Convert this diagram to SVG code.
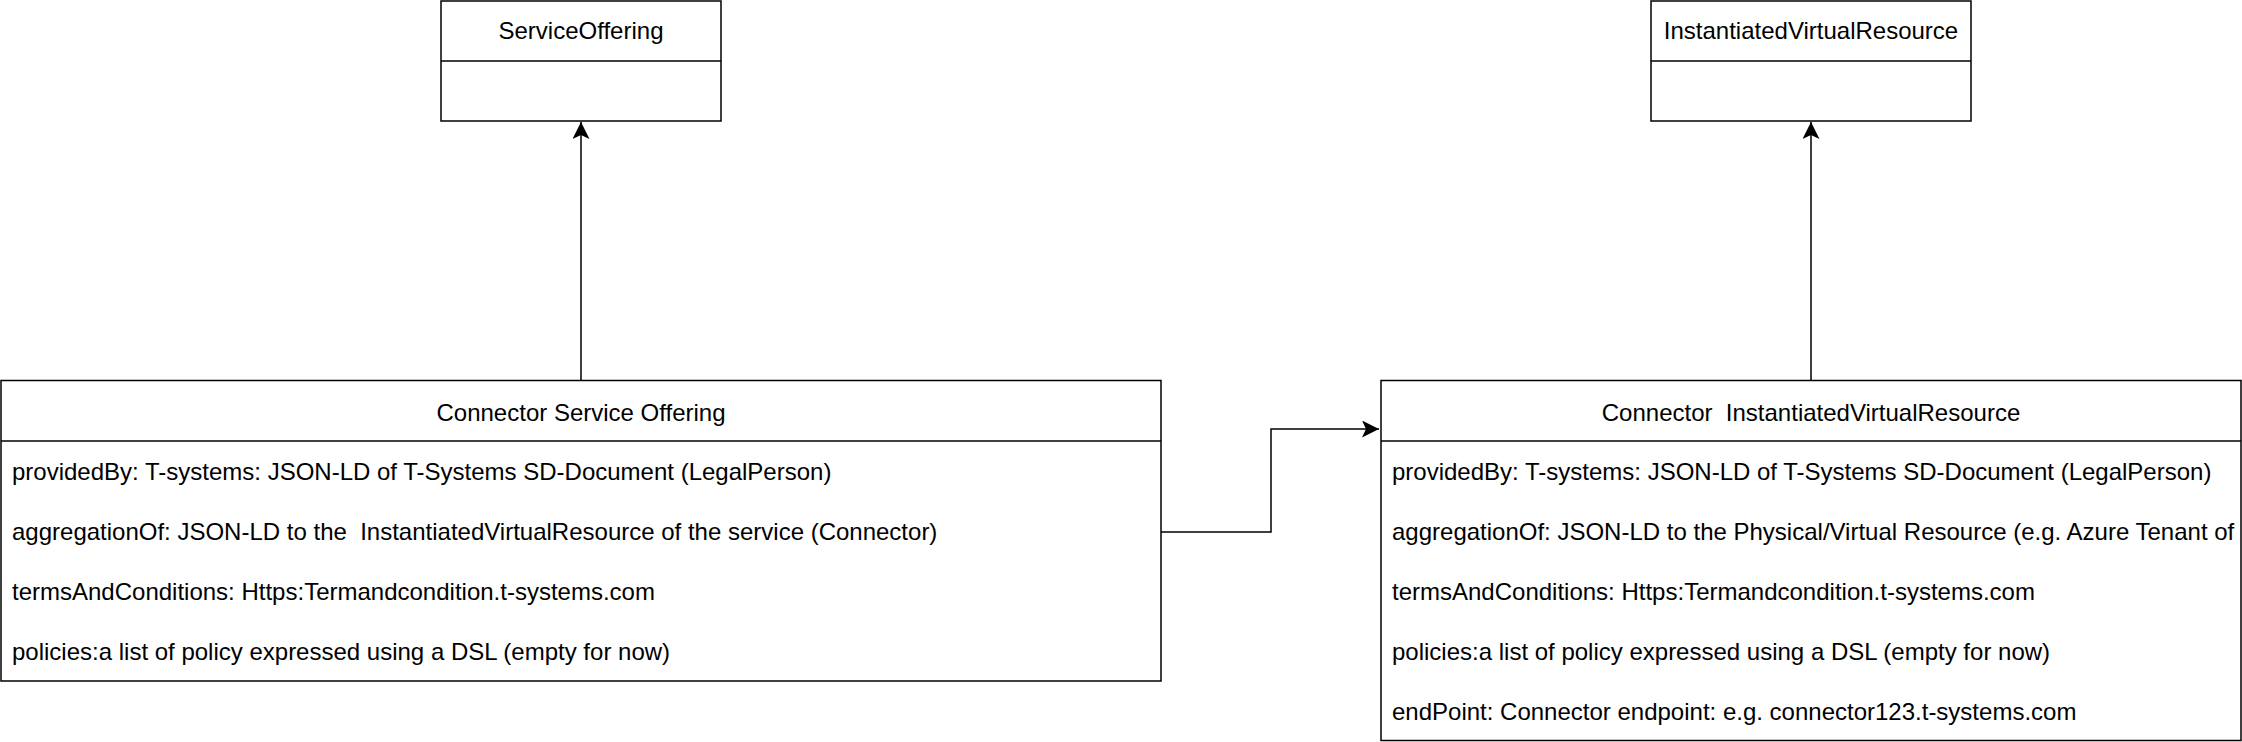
<svg xmlns="http://www.w3.org/2000/svg" width="2242" height="742" viewBox="0 0 2242 742">
<style>
.box{fill:#fff;stroke:#000;stroke-width:1.5}
.ln{fill:none;stroke:#000;stroke-width:1.5}
.t{font-family:"Liberation Sans",Arial,sans-serif;font-size:24px;fill:#000;white-space:pre}
.c{text-anchor:middle}
</style>
<defs>
<marker id="arr" markerWidth="17" markerHeight="17" viewBox="0 0 17 17" refX="17" refY="8.5" orient="auto" markerUnits="userSpaceOnUse">
<path d="M0,0 L17,8.5 L0,17 L4,8.5 Z" fill="#000"/>
</marker>
</defs>
<rect width="2242" height="742" fill="#fff"/>
<g id="connectors">
<path class="ln" d="M581,380.5 V122" marker-end="url(#arr)"/>
<path class="ln" d="M1811,380.5 V122" marker-end="url(#arr)"/>
<path class="ln" d="M1161,532 H1271 V429 H1379" marker-end="url(#arr)"/>
</g>
<g id="serviceOffering">
<rect class="box" x="441" y="1" width="280" height="120"/>
<line class="ln" x1="441" y1="61" x2="721" y2="61"/>
<text class="t c" x="581" y="39">ServiceOffering</text>
</g>
<g id="instantiatedVirtualResource">
<rect class="box" x="1651" y="1" width="320" height="120"/>
<line class="ln" x1="1651" y1="61" x2="1971" y2="61"/>
<text class="t c" x="1811" y="39">InstantiatedVirtualResource</text>
</g>
<g id="connectorServiceOffering">
<rect class="box" x="1" y="380.5" width="1160" height="300.5"/>
<line class="ln" x1="1" y1="441" x2="1161" y2="441"/>
<text class="t c" x="581" y="421">Connector Service Offering</text>
<text class="t" x="12" y="480">providedBy: T-systems: JSON-LD of T-Systems SD-Document (LegalPerson)</text>
<text class="t" x="12" y="540" xml:space="preserve">aggregationOf: JSON-LD to the  InstantiatedVirtualResource of the service (Connector)</text>
<text class="t" x="12" y="600">termsAndConditions: Https:Termandcondition.t-systems.com</text>
<text class="t" x="12" y="660">policies:a list of policy expressed using a DSL (empty for now)</text>
</g>
<g id="connectorInstantiatedVirtualResource">
<rect class="box" x="1381" y="380.5" width="860" height="360"/>
<line class="ln" x1="1381" y1="441" x2="2241" y2="441"/>
<text class="t c" x="1811" y="421" xml:space="preserve">Connector  InstantiatedVirtualResource</text>
<text class="t" x="1392" y="480">providedBy: T-systems: JSON-LD of T-Systems SD-Document (LegalPerson)</text>
<text class="t" x="1392" y="540">aggregationOf: JSON-LD to the Physical/Virtual Resource (e.g. Azure Tenant of</text>
<text class="t" x="1392" y="600">termsAndConditions: Https:Termandcondition.t-systems.com</text>
<text class="t" x="1392" y="660">policies:a list of policy expressed using a DSL (empty for now)</text>
<text class="t" x="1392" y="720">endPoint: Connector endpoint: e.g. connector123.t-systems.com</text>
</g>
</svg>
